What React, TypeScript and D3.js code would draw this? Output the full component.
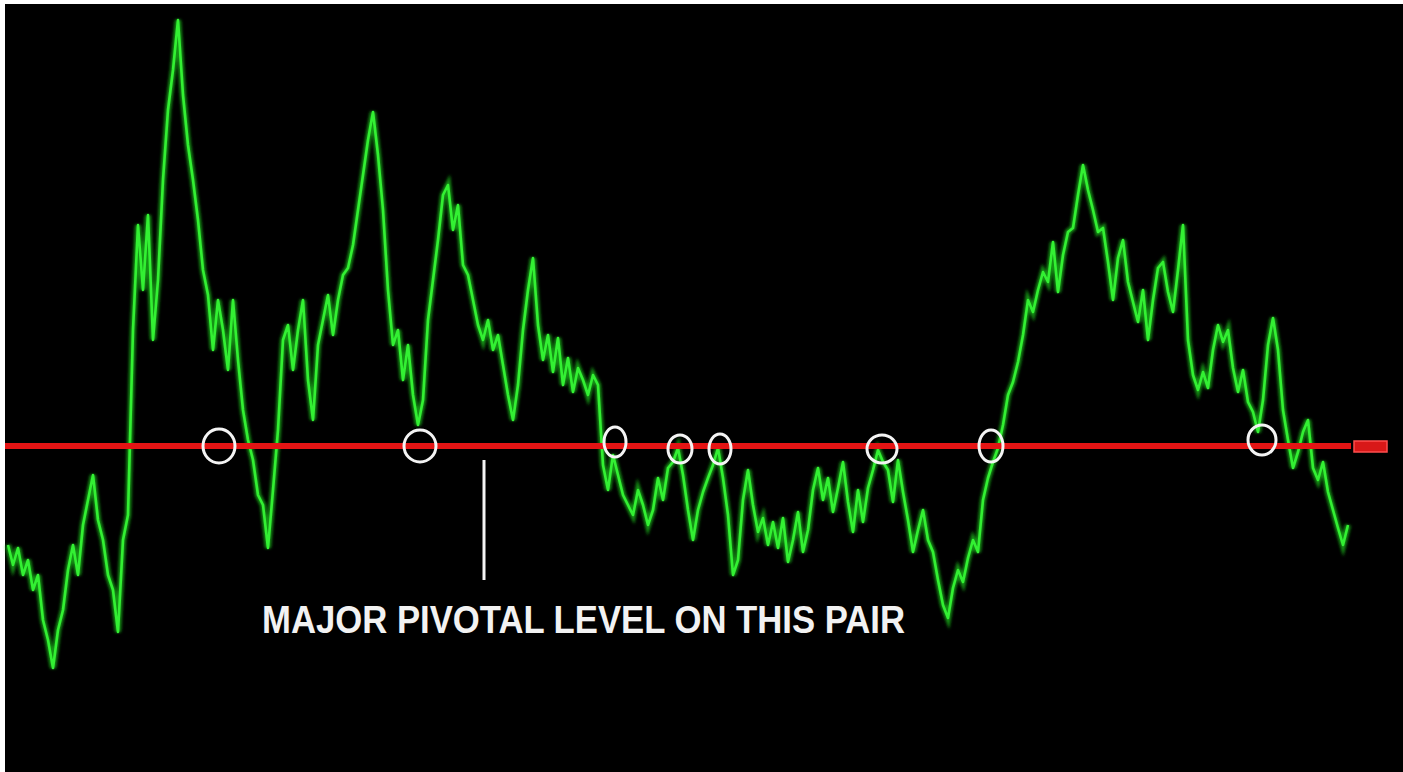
import React from 'react';
import * as d3 from 'd3';

// price trace, pips measured from the pivot level, one sample every few bars
const pips = [
  -99, -119, -102, -129, -114, -144, -129, -174, -194, -222,
  -184, -164, -124, -99, -129, -79, -54, -29, -74, -94,
  -129, -144, -186, -94, -69, 116, 221, 156, 231, 106,
  166, 266, 336, 376, 426, 351, 301, 266, 226, 176,
  151, 96, 146, 116, 76, 146, 86, 36, 6, -14,
  -49, -59, -102, -44, 16, 106, 121, 76, 116, 146,
  66, 26, 101, 126, 151, 111, 146, 171, 178, 201,
  236, 271, 306, 334, 291, 236, 156, 101, 116, 66,
  101, 51, 21, 46, 126, 166, 206, 251, 261, 216,
  241, 181, 171, 146, 121, 106, 126, 96, 111, 81,
  51, 26, 61, 116, 156, 188, 121, 86, 111, 74,
  108, 61, 88, 54, 78, 66, 51, 71, 61, -19,
  -44, -9, -29, -49, -59, -69, -44, -59, -79, -64,
  -32, -54, -22, -16, -2, -29, -64, -94, -64, -46,
  -32, -19, -2, -32, -69, -129, -114, -54, -24, -59,
  -86, -72, -99, -76, -102, -72, -116, -94, -66, -106,
  -84, -44, -22, -54, -32, -66, -42, -16, -56, -86,
  -44, -76, -42, -24, -4, -16, -24, -56, -14, -46,
  -74, -106, -84, -64, -94, -106, -134, -159, -172, -142,
  -124, -136, -112, -94, -106, -54, -32, -16, -2, 21,
  51, 64, 84, 111, 146, 134, 156, 174, 164, 204,
  154, 191, 214, 218, 251, 281, 256, 236, 214, 218,
  184, 146, 188, 206, 164, 144, 124, 156, 106, 146,
  178, 184, 154, 134, 176, 221, 106, 71, 56, 74,
  58, 96, 121, 104, 116, 78, 54, 76, 44, 34,
  14, 46, 101, 128, 96, 36, 6, -22, -6, 14,
  26, -22, -34, -16, -46, -64, -82, -99, -79,
];

// places where price tested the pivot (sample index, pips offset)
const touchAt = [42.2, 82.4, 121.4, 134.4, 142.4, 174.8, 196.6, 250.8];
const touchPips = [0, 0, 4, -3, -3, -3, 0, 6];
const touchRx = [16, 16, 11, 12, 11, 15, 12, 14];
const touchRy = [17, 16, 15, 14, 15, 14, 16, 15];

const pivotPips = 0;
const calloutAt = 95.2;
const calloutPips = [-14, -134];
const label = 'MAJOR PIVOTAL LEVEL ON THIS PAIR';

const W = 1403;
const H = 772;

export default function App() {
  const x = d3.scaleLinear().domain([0, pips.length - 1]).range([8, 1348]);
  const y = d3.scaleLinear().domain([-326, 446]).range([H, 0]);

  const line = d3
    .line<number>()
    .x((_, i) => x(i))
    .y((d) => y(d));
  const path = line(pips) || '';

  const py = y(pivotPips);

  return (
    <svg
      width={W}
      height={H}
      style={{ position: 'absolute', left: 0, top: 0, display: 'block' }}
    >
      <defs>
        <filter id="glow" x="-5%" y="-5%" width="110%" height="110%">
          <feGaussianBlur stdDeviation="1.8" />
        </filter>
      </defs>
      <rect x={0} y={0} width={W} height={H} fill="#ffffff" />
      <rect x={5} y={4} width={W - 5} height={H - 4} fill="#000000" />

      {/* price */}
      <path d={path} fill="none" stroke="#1ec41e" strokeWidth={6} opacity={0.75} filter="url(#glow)" />
      <path d={path} fill="none" stroke="#33f033" strokeWidth={2.6} strokeLinejoin="round" />

      {/* pivot level */}
      <line x1={5} x2={1351} y1={py} y2={py} stroke="#e41414" strokeWidth={6} />
      <rect x={1354} y={py - 5} width={33} height={11} fill="#d81818" stroke="#ff4d4d" strokeWidth={1.5} />

      {touchAt.map((t, i) => (
        <ellipse
          key={i}
          cx={x(t)}
          cy={y(touchPips[i])}
          rx={touchRx[i]}
          ry={touchRy[i]}
          fill="none"
          stroke="#f4f4f4"
          strokeWidth={3}
        />
      ))}

      <line
        x1={x(calloutAt)}
        x2={x(calloutAt)}
        y1={y(calloutPips[0])}
        y2={y(calloutPips[1])}
        stroke="#f4f4f4"
        strokeWidth={3}
      />
      <text
        x={262}
        y={633}
        fill="#f2f2f2"
        fontFamily="'Liberation Sans', Arial, sans-serif"
        fontWeight="bold"
        fontSize={39}
        textLength={643}
        lengthAdjust="spacingAndGlyphs"
      >
        {label}
      </text>
    </svg>
  );
}
